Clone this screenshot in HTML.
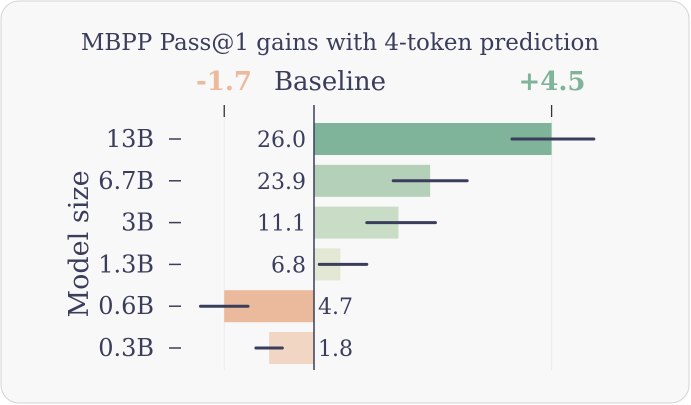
<!DOCTYPE html>
<html><head><meta charset="utf-8"><style>
html,body{margin:0;padding:0;background:#fff;}
svg{display:block;font-family:"DejaVu Serif","Liberation Serif",serif;}
</style></head><body>
<svg id="chart" width="691" height="405">
<rect x="1" y="1" width="688" height="402" rx="18" fill="#f8f8f8" stroke="#d4d4d4"/>
<text x="340" y="50" text-anchor="middle" font-size="23" fill="#3b3d5c">MBPP Pass@1  gains with 4-token prediction</text>
<text x="224" y="90" text-anchor="middle" font-size="26" font-weight="bold" fill="#ebb99b">-1.7</text>
<text x="330" y="90" text-anchor="middle" font-size="26" fill="#3b3d5c">Baseline</text>
<text x="552" y="90" text-anchor="middle" font-size="26" font-weight="bold" fill="#7fb39a">+4.5</text>
<text transform="translate(88,244) rotate(-90)" text-anchor="middle" font-size="27" fill="#3b3d5c">Model size</text>
<g id="marks"></g>
</svg>
<script>
const categories = ["13B","6.7B","3B","1.3B","0.6B","0.3B"];
const baselines = ["26.0","23.9","11.1","6.8","4.7","1.8"];
const gains = [4.5, 2.2, 1.6, 0.5, -1.7, -0.85];
const errLow = [3.75, 1.5, 1.0, 0.1, -2.15, -1.1];
const errHigh = [5.3, 2.9, 2.3, 1.0, -1.25, -0.6];
const colors = ["#7fb39a","#b5d0b9","#c9dcc6","#e2e8d4","#ebb99b","#f1d6c4"];

const x0 = 314, unit = 52.8;
const xs = v => x0 + v * unit;
const rowY = i => 139 + i * 41.8;
const ns = "http://www.w3.org/2000/svg";
const g = document.getElementById("marks");
function mk(tag, attrs){const e=document.createElementNS(ns,tag);for(const k in attrs)e.setAttribute(k,attrs[k]);g.appendChild(e);return e;}

[-1.7, 4.5].forEach(v=>{
  const gl = mk("line",{x1:xs(v),x2:xs(v),y1:117,y2:370,stroke:"#ececec","stroke-width":1});
  
  
  const t = mk("line",{x1:xs(v),x2:xs(v),y1:105,y2:117,stroke:"#333","stroke-width":1.3});
  
  
});

categories.forEach((c,i)=>{
  const y = rowY(i);
  const a = xs(Math.min(0,gains[i])), b = xs(Math.max(0,gains[i]));
  const r = mk("rect",{x:a,y:y-16,width:b-a,height:32,fill:colors[i]});
  
  
  const e = mk("line",{x1:xs(errLow[i]),x2:xs(errHigh[i]),y1:y,y2:y,stroke:"#3b3d5c","stroke-width":3,"stroke-linecap":"round"});
  
  
  const lbl = mk("text",{x:154,y:y+8,"text-anchor":"end","font-size":24,fill:"#3b3d5c"});
  lbl.textContent = c;
  
  
  const tk = mk("line",{x1:169,x2:181,y1:y,y2:y,stroke:"#3b3d5c","stroke-width":1.5});
  
  
  const neg = gains[i] < 0;
  const bl = mk("text",{x:neg?x0+4:x0-8,y:y+8,"text-anchor":neg?"start":"end","font-size":22,fill:"#3b3d5c"});
  bl.textContent = baselines[i];
  
  
});
const axis = mk("line",{x1:x0,x2:x0,y1:105,y2:370,stroke:"#3b3d5c","stroke-width":1.5});


</script>
</body></html>
